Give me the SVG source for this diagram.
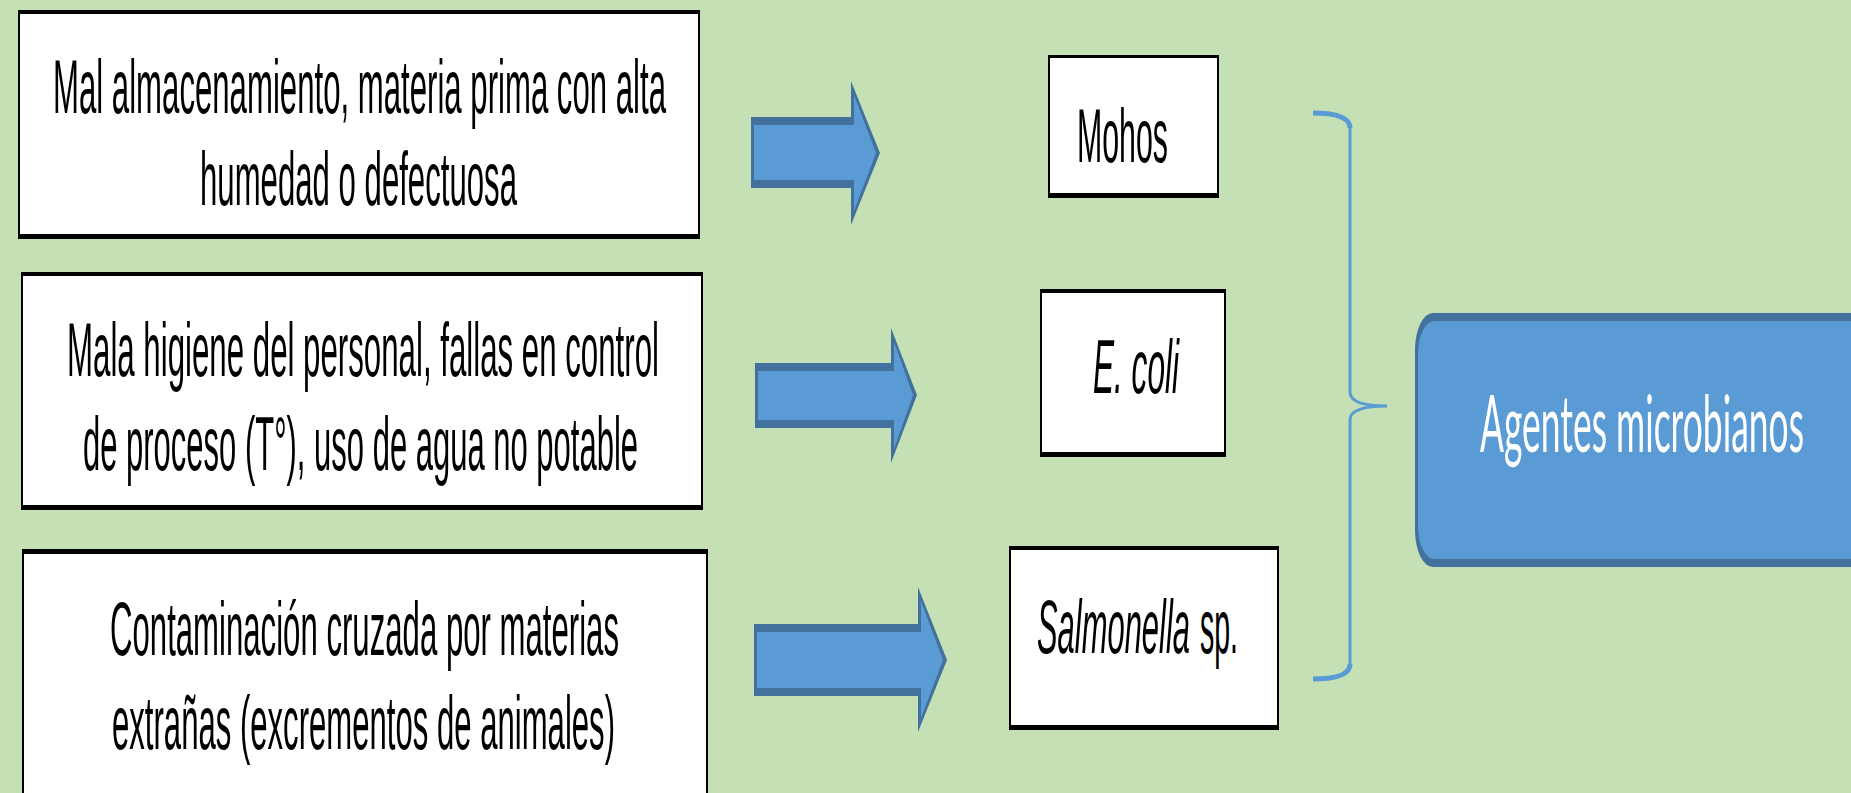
<svg xmlns="http://www.w3.org/2000/svg" width="1851" height="793" viewBox="0 0 1851 793">
<style>
.bg{fill:#C5E0B4}
.frame{fill:#000}
.paper{fill:#fff}
.t{font-family:"Liberation Sans",Arial,sans-serif;font-size:76px;fill:#000}
.it{font-style:italic}
.dk{fill:#41719C}
.lt{fill:#5B9BD5}
.brace{fill:none;stroke:#5B9BD5;stroke-linecap:butt}
.ag{font-family:Lato,"Open Sans",sans-serif;font-size:80px;fill:#fff}
</style>
<rect class="bg" x="0" y="0" width="1851" height="793"/>

<g id="node-almacenamiento">
<rect class="frame" x="18" y="10" width="682" height="229"/>
<rect class="paper" x="20" y="14" width="678" height="220"/>
<text class="t" transform="scale(0.4 1)" x="132.5" y="113" textLength="1532.5" lengthAdjust="spacingAndGlyphs">Mal almacenamiento, materia prima con alta</text>
<text class="t" transform="scale(0.4 1)" x="500" y="205" textLength="792.5" lengthAdjust="spacingAndGlyphs">humedad o defectuosa</text>
</g>

<g id="node-higiene">
<rect class="frame" x="21" y="272" width="682" height="238"/>
<rect class="paper" x="23" y="276" width="678" height="229"/>
<text class="t" transform="scale(0.4 1)" x="167.5" y="376" textLength="1480" lengthAdjust="spacingAndGlyphs">Mala higiene del personal, fallas en control</text>
<text class="t" transform="scale(0.4 1)" x="207.5" y="470" textLength="1387.5" lengthAdjust="spacingAndGlyphs">de proceso (T°), uso de agua no potable</text>
</g>

<g id="node-contaminacion">
<rect class="frame" x="22" y="549" width="686" height="260"/>
<rect class="paper" x="24" y="554" width="682" height="260"/>
<text class="t" transform="scale(0.4 1)" x="275" y="655" textLength="1272.5" lengthAdjust="spacingAndGlyphs">Contaminación cruzada por materias</text>
<text class="t" transform="scale(0.4 1)" x="280" y="749" textLength="1257.5" lengthAdjust="spacingAndGlyphs">extrañas (excrementos de animales)</text>
</g>

<g id="node-mohos">
<rect class="frame" x="1048" y="55" width="171" height="143"/>
<rect class="paper" x="1050" y="58" width="167" height="135"/>
<text class="t" transform="scale(0.4 1)" x="2692.5" y="162" textLength="227.5" lengthAdjust="spacingAndGlyphs">Mohos</text>
</g>

<g id="node-ecoli">
<rect class="frame" x="1040" y="289" width="186" height="168"/>
<rect class="paper" x="1042" y="293" width="182" height="159"/>
<text class="t it" transform="scale(0.4 1)" x="2732.5" y="393" textLength="215" lengthAdjust="spacingAndGlyphs">E. coli</text>
</g>

<g id="node-salmonella">
<rect class="frame" x="1009" y="546" width="270" height="184"/>
<rect class="paper" x="1011" y="550" width="266" height="175"/>
<text class="t it" transform="scale(0.4 1)" x="2592.5" y="653" textLength="382.5" lengthAdjust="spacingAndGlyphs">Salmonella</text>
<text class="t" transform="scale(0.4 1)" x="3000" y="653" textLength="95" lengthAdjust="spacingAndGlyphs">sp.</text>
</g>

<g id="node-agentes">
<rect class="dk" x="1415" y="313" width="470" height="254" rx="18" ry="37"/>
<rect class="lt" x="1418" y="321" width="470" height="238" rx="16" ry="33"/>
<text class="ag" transform="scale(0.42 1)" x="3523.8" y="452" textLength="771.4" lengthAdjust="spacingAndGlyphs">Agentes microbianos</text>
</g>

<g id="connectors">
<g id="arrow-1">
<polygon class="dk" points="751,117 851,117 851,81 880,153 851,225 851,188 751,188"/>
<polygon class="lt" points="754,125 854,125 854,95 876,153 854,211 854,180 754,180"/>
</g>
<g id="arrow-2">
<polygon class="dk" points="755,363 891,363 891,328 917,395 891,463 891,428 755,428"/>
<polygon class="lt" points="758,371 894,371 894,342 913,395 894,449 894,420 758,420"/>
</g>
<g id="arrow-3">
<polygon class="dk" points="754,624 918,624 918,587 947,660 918,732 918,696 754,696"/>
<polygon class="lt" points="757,632 921,632 921,601 943,660 921,718 921,688 757,688"/>
</g>
<g id="brace">
<path class="brace" stroke-width="3" d="M1350,126 L1350,392 C1350,401 1362,406 1387,406 C1362,406 1350,411 1350,420 L1350,666"/>
<path class="brace" stroke-width="5" d="M1313,113 C1337,113 1350,118 1350,128"/>
<path class="brace" stroke-width="5" d="M1350,664 C1350,674 1337,679 1313,679"/>
</g>
</g>
</svg>
